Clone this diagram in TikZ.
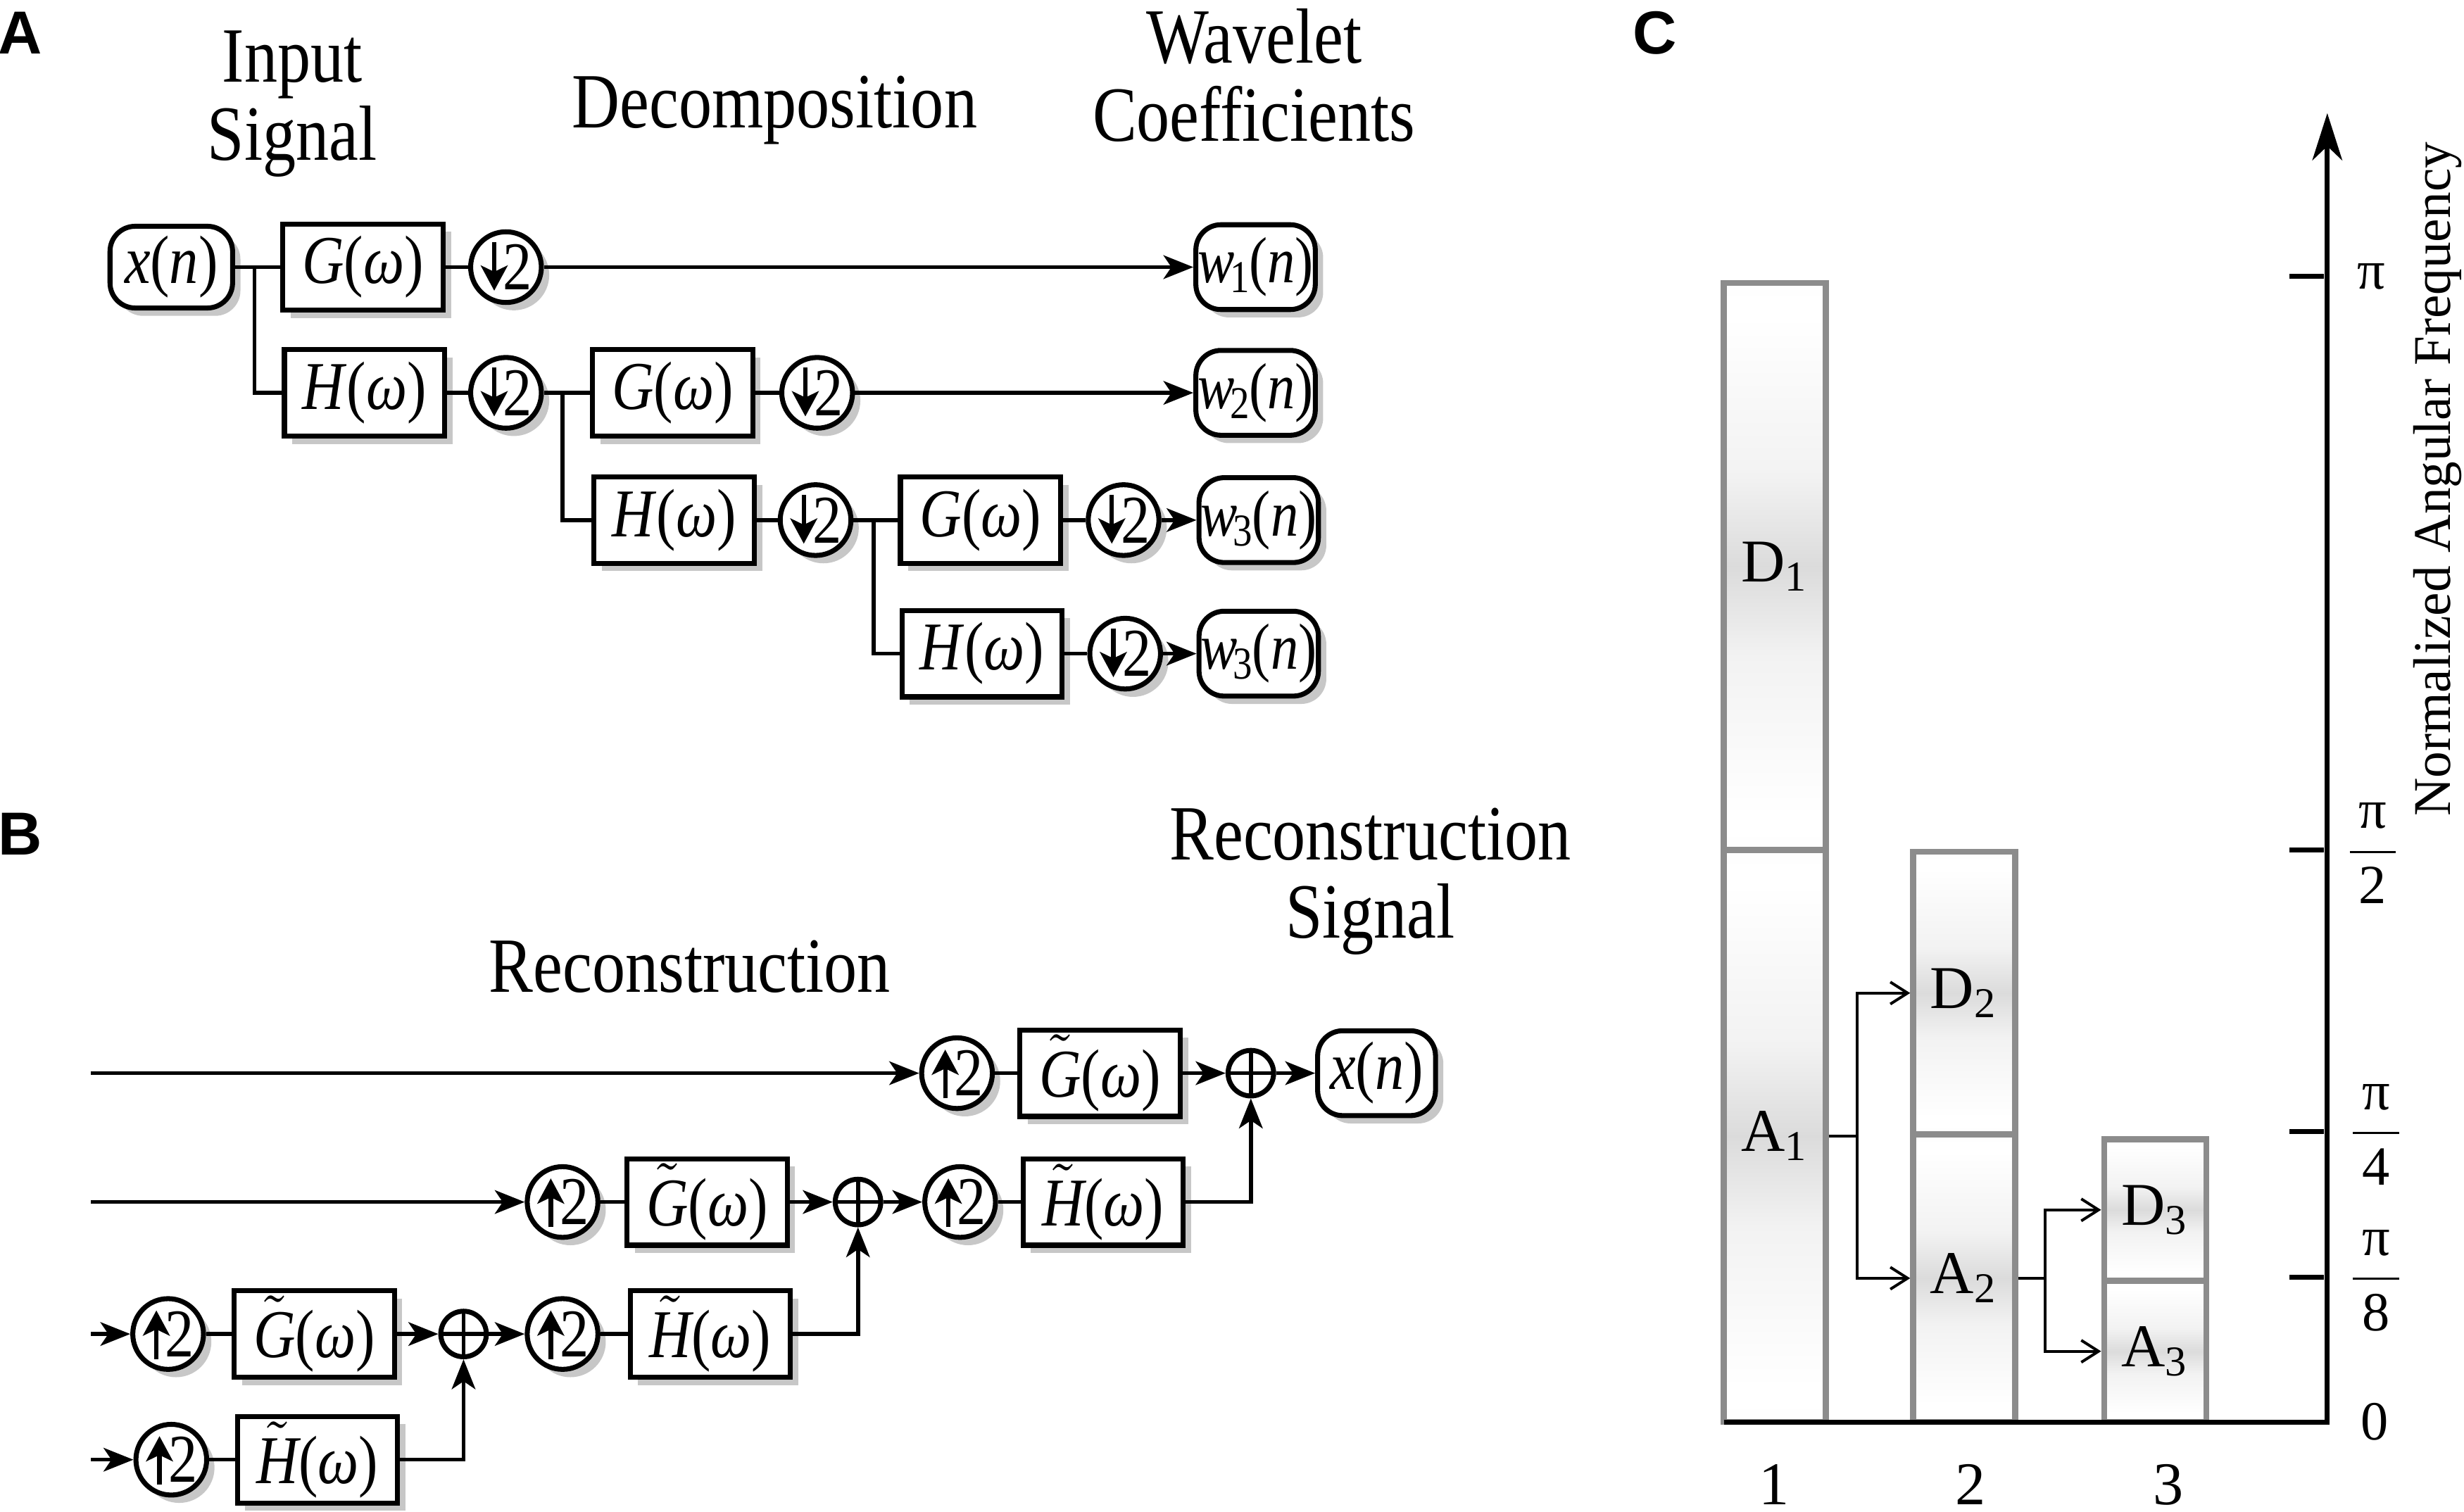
\documentclass[tikz,border=0pt]{standalone}
\usepackage{fontspec}
\setmainfont{Liberation Serif}
\newfontfamily\panelfont{Liberation Sans}
\usepackage{graphicx}
\usetikzlibrary{arrows.meta,shadows,positioning}

\newcommand{\cond}[1]{\scalebox{1}[1.18]{#1}}
\newcommand{\flt}[1]{\cond{\textit{#1}(\textit{ω})}}
\newcommand{\tflt}[1]{\cond{$\tilde{\textit{#1}}$(\textit{ω})}}
\newcommand{\coef}[1]{\cond{\textit{w}\kern-0.08em\textsubscript{#1}\kern-0.05em(\textit{n})}}
\newcommand{\xsig}{\cond{\textit{x}(\textit{n})}}
\newcommand{\two}{\hspace*{1.5mm}\cond{2}}

\pgfdeclareverticalshading{barshade}{100bp}{color(0bp)=(black!3); color(28bp)=(white); color(42bp)=(black!5); color(50bp)=(black!14); color(58bp)=(black!5); color(72bp)=(white); color(100bp)=(black!3)}

\tikzset{
  shadowed/.style={drop shadow={shadow xshift=0.5mm, shadow yshift=-0.5mm, fill=black!22, opacity=1}},
  box/.style={draw, line width=0.9pt, fill=white, minimum width=10.2mm, minimum height=5.5mm, inner sep=0pt, font=\fontsize{10.5}{12}\selectfont, shadowed},
  sigbox/.style={box, rounded corners=1.6mm, minimum width=7.5mm, minimum height=5.4mm},
  coefbox/.style={sigbox, minimum width=7.6mm, font=\fontsize{10}{12}\selectfont},
  rate/.style={circle, draw, line width=0.9pt, fill=white, minimum size=4.5mm, inner sep=0pt, font=\fontsize{10.5}{12}\selectfont, shadowed},
  decim/.style={rate, path picture={\draw[line width=0.8pt, -{Stealth[length=1.6mm,width=1.7mm,inset=0.4mm]}] ([xshift=-0.75mm,yshift=1.6mm]path picture bounding box.center) -- ++(0,-3.1mm);}},
  interp/.style={rate, path picture={\draw[line width=0.8pt, -{Stealth[length=1.6mm,width=1.7mm,inset=0.4mm]}] ([xshift=-0.75mm,yshift=-1.6mm]path picture bounding box.center) -- ++(0,3.1mm);}},
  adder/.style={circle, draw, line width=0.9pt, fill=white, minimum size=2.9mm, inner sep=0pt, path picture={\draw[line width=0.7pt] (path picture bounding box.north) -- (path picture bounding box.south) (path picture bounding box.west) -- (path picture bounding box.east);}},
  wire/.style={line width=0.7pt},
  flow/.style={wire, -{Stealth[length=1.9mm,width=1.5mm,inset=0.5mm]}},
  heading/.style={font=\fontsize{12}{14.2}\selectfont, align=center},
  panel/.style={font=\panelfont\bfseries\fontsize{11}{13}\selectfont},
  band/.style={draw=black!45, line width=1.1pt, shade, shading=barshade, minimum width=6.5mm, inner sep=0pt, font=\fontsize{11}{13}\selectfont},
  split/.style={line width=0.5pt, -{Straight Barb[length=1.1mm,width=1.4mm]}},
  tick/.style={font=\fontsize{10}{12}\selectfont},
}

\begin{document}
\begin{tikzpicture}[x=0.1mm, y=-0.1mm]
  \useasboundingbox (0,0) rectangle (1568,962);

  \node[panel] (pa) at (13,21) {A};
  \node[panel] (pb) at (13,531) {B};
  \node[panel] (pc) at (1053,21) {C};

  \node[heading] (hin) at (186,66) {\cond{Input}\\\cond{Signal}};
  \node[heading] (hdec) at (493,70) {\cond{Decomposition}};
  \node[heading] (hcoef) at (798,48) {\cond{Wavelet}\\\cond{Coefficients}};

  \node[sigbox, minimum width=7.8mm, minimum height=5.2mm] (xin) at (109,170) {\xsig};
  \node[box] (g1) at (231,170) {\flt{G}};
  \node[decim] (d1) at (322,170) {\two};
  \node[coefbox] (w1) at (799,170) {\coef{1}};
  \node[box] (h1) at (232,250) {\flt{H}};
  \node[decim] (d2) at (322,250) {\two};
  \node[box] (g2) at (428,250) {\flt{G}};
  \node[decim] (d3) at (520,250) {\two};
  \node[coefbox] (w2) at (799,250) {\coef{2}};
  \node[box] (h2) at (429,331) {\flt{H}};
  \node[decim] (d4) at (519,331) {\two};
  \node[box] (g3) at (624,331) {\flt{G}};
  \node[decim] (d5) at (715,331) {\two};
  \node[coefbox] (w3) at (801,331) {\coef{3}};
  \node[box] (h3) at (625,416) {\flt{H}};
  \node[decim] (d6) at (716,416) {\two};
  \node[coefbox] (w4) at (801,416) {\coef{3}};

  \coordinate (b1) at (162,170);
  \coordinate (b2) at (358,250);
  \coordinate (b3) at (556,331);
  \draw[wire] (xin) -- (g1);
  \draw[wire] (g1) -- (d1);
  \draw[flow] (d1) -- (w1);
  \draw[wire] (b1) |- (h1);
  \draw[wire] (h1) -- (d2);
  \draw[wire] (d2) -- (g2);
  \draw[wire] (g2) -- (d3);
  \draw[flow] (d3) -- (w2);
  \draw[wire] (b2) |- (h2);
  \draw[wire] (h2) -- (d4);
  \draw[wire] (d4) -- (g3);
  \draw[wire] (g3) -- (d5);
  \draw[flow] (d5) -- (w3);
  \draw[wire] (b3) |- (h3);
  \draw[wire] (h3) -- (d6);
  \draw[flow] (d6) -- (w4);

  \node[heading] (hrec) at (439,615) {\cond{Reconstruction}};
  \node[heading] (hout) at (872,561) {\cond{Reconstruction}\\\cond{Signal}};

  \coordinate (in1) at (58,683);
  \coordinate (in2) at (58,765);
  \coordinate (in3) at (58,849);
  \coordinate (in4) at (58,929);
  \node[interp] (u1) at (609,683) {\two};
  \node[box] (gt1) at (700,683) {\tflt{G}};
  \node[adder] (add1) at (796,683) {};
  \node[sigbox] (xout) at (876,683) {\xsig};
  \node[interp] (u2) at (358,765) {\two};
  \node[box] (gt2) at (450,765) {\tflt{G}};
  \node[adder] (add2) at (546,765) {};
  \node[interp] (u3) at (611,765) {\two};
  \node[box] (ht1) at (702,765) {\tflt{H}};
  \node[interp] (u4) at (107,849) {\two};
  \node[box] (gt3) at (200,849) {\tflt{G}};
  \node[adder] (add3) at (295,849) {};
  \node[interp] (u5) at (358,849) {\two};
  \node[box] (ht2) at (452,849) {\tflt{H}};
  \node[interp] (u6) at (109,929) {\two};
  \node[box] (ht3) at (202,929) {\tflt{H}};

  \draw[flow] (in1) -- (u1);
  \draw[wire] (u1) -- (gt1);
  \draw[flow] (gt1) -- (add1);
  \draw[flow] (add1) -- (xout);
  \draw[flow] (in2) -- (u2);
  \draw[wire] (u2) -- (gt2);
  \draw[flow] (gt2) -- (add2);
  \draw[flow] (add2) -- (u3);
  \draw[wire] (u3) -- (ht1);
  \draw[flow] (ht1) -| (add1);
  \draw[flow] (in3) -- (u4);
  \draw[wire] (u4) -- (gt3);
  \draw[flow] (gt3) -- (add3);
  \draw[flow] (add3) -- (u5);
  \draw[wire] (u5) -- (ht2);
  \draw[flow] (ht2) -| (add2);
  \draw[flow] (in4) -- (u6);
  \draw[wire] (u6) -- (ht3);
  \draw[flow] (ht3) -| (add3);

  \node[band, minimum height=36.1mm] (D1) at (1129.5,360.5) {D\textsubscript{1}};
  \node[band, minimum height=36.4mm] (A1) at (1129.5,723) {A\textsubscript{1}};
  \node[band, minimum height=18mm] (D2) at (1250,632) {D\textsubscript{2}};
  \node[band, minimum height=18.3mm] (A2) at (1250,813.5) {A\textsubscript{2}};
  \node[band, minimum height=9mm] (D3) at (1371.5,770) {D\textsubscript{3}};
  \node[band, minimum height=9mm] (A3) at (1371.5,860) {A\textsubscript{3}};

  \draw[split] (A1.east) -- ++(18,0) coordinate (k1) |- (D2.west);
  \draw[split] (k1) |- (A2.west);
  \draw[split] (A2.east) -- ++(17,0) coordinate (k2) |- (D3.west);
  \draw[split] (k2) |- (A3.west);

  \coordinate (origin) at (1481,905);
  \draw[line width=0.9pt, -{Stealth[length=3mm,width=1.9mm,inset=0.9mm]}] (1097,905) -- (origin) -- (1481,72);
  \foreach \y in {176,541,720,813}
    \draw[line width=0.9pt] (1457,\y) -- (1479,\y);

  \node[tick] (tpi) at (1509,176) {π};
  \node[tick] (thalf) at (1510,543) {$\displaystyle\frac{\mbox{\,π\,}}{\mbox{2}}$};
  \node[tick] (tquart) at (1512,722) {$\displaystyle\frac{\mbox{\,π\,}}{\mbox{4}}$};
  \node[tick] (teighth) at (1512,815) {$\displaystyle\frac{\mbox{\,π\,}}{\mbox{8}}$};
  \node[tick] (tzero) at (1511,905) {0};
  \node[font=\fontsize{9.6}{11}\selectfont, rotate=90] (axlab) at (1551,305) {Normalized Angular Frequency};

  \node[font=\fontsize{11}{13}\selectfont] (c1) at (1129,945) {1};
  \node[font=\fontsize{11}{13}\selectfont] (c2) at (1254,945) {2};
  \node[font=\fontsize{11}{13}\selectfont] (c3) at (1380,945) {3};
\end{tikzpicture}
\end{document}
